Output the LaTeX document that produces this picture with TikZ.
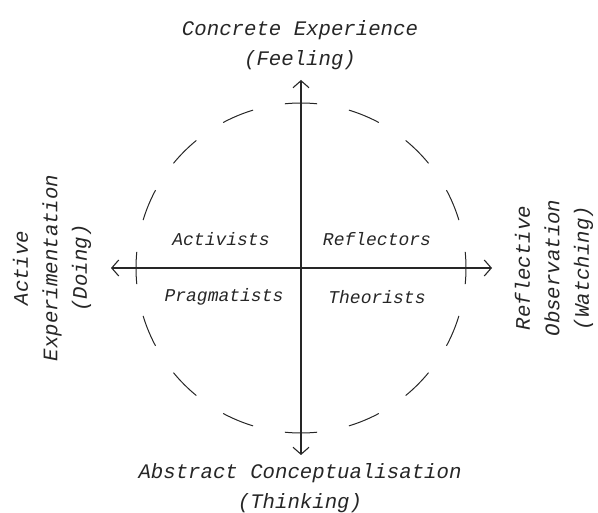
\documentclass[tikz,border=0pt]{standalone}
\usepackage{fontspec}
\setmonofont{Liberation Mono}
\usetikzlibrary{arrows.meta}
\begin{document}
\begin{tikzpicture}[x=1pt,y=-1pt,
  axis/.style={draw=black!85, line width=1.1pt, {Straight Barb[length=7pt,width=16pt]}-{Straight Barb[length=7pt,width=16pt]}},
  circ/.style={draw=black!85, line width=1pt},
  big/.style={font=\ttfamily\itshape\fontsize{20.7}{29.5}\selectfont, align=center, text=black!85, inner sep=0pt},
  quad/.style={font=\ttfamily\itshape\fontsize{18}{22}\selectfont, text=black!85, inner sep=0pt}]
\useasboundingbox (0,0) rectangle (598,513);
\coordinate (c) at (301,268);
\coordinate (L) at (111,268);
\coordinate (R) at (492,268);
\coordinate (T) at (301,80);
\coordinate (B) at (301,455);
\foreach \a in {0,22.5,...,337.5}
  \draw[circ] (c) ++(\a-5.625:165) arc[start angle=\a-5.625, end angle=\a+5.625, radius=165];
\draw[axis] (L) -- (R);
\draw[axis] (B) -- (T);
\node[big] (ce) at (300,45) {Concrete Experience\\(Feeling)};
\node[big] (ac) at (300,488) {Abstract Conceptualisation\\(Thinking)};
\node[big, rotate=90] (ae) at (52,268) {Active\\Experimentation\\(Doing)};
\node[big, rotate=90] (ro) at (554,268) {Reflective\\Observation\\(Watching)};
\node[quad] (act) at (221,239) {Activists};
\node[quad] (ref) at (377,239) {Reflectors};
\node[quad] (pra) at (224,297) {Pragmatists};
\node[quad] (the) at (377,297) {Theorists};
\end{tikzpicture}
\end{document}
